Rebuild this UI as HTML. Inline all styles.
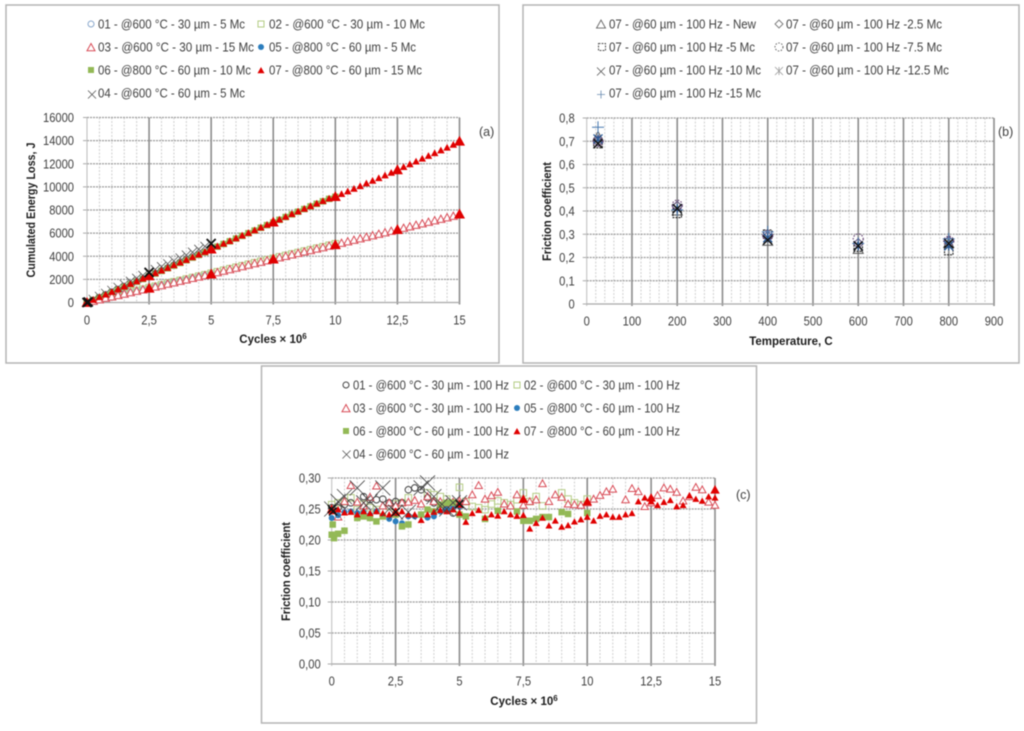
<!DOCTYPE html>
<html lang="en">
<head>
<meta charset="utf-8">
<title>Friction and energy loss charts</title>
<style>
html,body{margin:0;padding:0;background:#fff;width:1024px;height:731px;overflow:hidden}
svg{display:block;filter:blur(0.5px)}
text{font-family:"Liberation Sans",sans-serif;fill:#404040}
.leg{font-size:12.5px}
.tick{font-size:12.5px}
.ttl{font-size:11.5px;font-weight:bold;fill:#1c1c1c}
</style>
</head>
<body>
<svg id="root" xmlns="http://www.w3.org/2000/svg" width="1024" height="731" viewBox="0 0 1024 731">
<rect x="0" y="0" width="1024" height="731" fill="#fff"/>
<rect x="6" y="5" width="493" height="358" fill="#fff" stroke="#b4b4b4" stroke-width="1.5"/>
<rect x="523" y="5" width="496" height="358" fill="#fff" stroke="#b4b4b4" stroke-width="1.5"/>
<rect x="261.5" y="366" width="495" height="357" fill="#fff" stroke="#b4b4b4" stroke-width="1.5"/>

<g>
<text class="leg" x="98" y="28.5" textLength="147" lengthAdjust="spacingAndGlyphs">01 - @600 °C - 30 µm - 5 Mc</text>
<text class="leg" x="269" y="28.5" textLength="156" lengthAdjust="spacingAndGlyphs">02 - @600 °C - 30 µm  - 10 Mc</text>
<text class="leg" x="98" y="51.5" textLength="156" lengthAdjust="spacingAndGlyphs">03 - @600 °C - 30 µm  - 15 Mc</text>
<text class="leg" x="269" y="51.5" textLength="147" lengthAdjust="spacingAndGlyphs">05 - @800 °C - 60 µm - 5 Mc</text>
<text class="leg" x="98" y="74.5" textLength="153" lengthAdjust="spacingAndGlyphs">06 - @800 °C - 60 µm - 10 Mc</text>
<text class="leg" x="269" y="74.5" textLength="153" lengthAdjust="spacingAndGlyphs">07 - @800 °C - 60 µm - 15 Mc</text>
<text class="leg" x="98" y="97.5" textLength="147" lengthAdjust="spacingAndGlyphs">04 - @600 °C - 60 µm - 5 Mc</text>
</g>
<g>
<text class="leg" x="609" y="28.5" textLength="147" lengthAdjust="spacingAndGlyphs">07 - @60 µm - 100 Hz - New</text>
<text class="leg" x="786" y="28.5" textLength="156" lengthAdjust="spacingAndGlyphs">07 - @60 µm - 100 Hz -2.5 Mc</text>
<text class="leg" x="609" y="51.5" textLength="146" lengthAdjust="spacingAndGlyphs">07 - @60 µm - 100 Hz -5 Mc</text>
<text class="leg" x="786" y="51.5" textLength="156" lengthAdjust="spacingAndGlyphs">07 - @60 µm - 100 Hz -7.5 Mc</text>
<text class="leg" x="609" y="74.5" textLength="152" lengthAdjust="spacingAndGlyphs">07 - @60 µm - 100 Hz -10 Mc</text>
<text class="leg" x="786" y="74.5" textLength="163" lengthAdjust="spacingAndGlyphs">07 - @60 µm - 100 Hz -12.5 Mc</text>
<text class="leg" x="609" y="97.5" textLength="152" lengthAdjust="spacingAndGlyphs">07 - @60 µm - 100 Hz -15 Mc</text>
</g>
<g>
<text class="leg" x="353" y="389.5" textLength="156" lengthAdjust="spacingAndGlyphs">01 - @600 °C - 30 µm - 100 Hz</text>
<text class="leg" x="524" y="389.5" textLength="156" lengthAdjust="spacingAndGlyphs">02 - @600 °C - 30 µm - 100 Hz</text>
<text class="leg" x="353" y="412.5" textLength="156" lengthAdjust="spacingAndGlyphs">03 - @600 °C - 30 µm - 100 Hz</text>
<text class="leg" x="524" y="412.5" textLength="156" lengthAdjust="spacingAndGlyphs">05 - @800 °C - 60 µm - 100 Hz</text>
<text class="leg" x="353" y="435.5" textLength="156" lengthAdjust="spacingAndGlyphs">06 - @800 °C - 60 µm - 100 Hz</text>
<text class="leg" x="524" y="435.5" textLength="156" lengthAdjust="spacingAndGlyphs">07 - @800 °C - 60 µm - 100 Hz</text>
<text class="leg" x="353" y="458.5" textLength="156" lengthAdjust="spacingAndGlyphs">04 - @600 °C - 60 µm - 100 Hz</text>
</g>

<text class="tick" x="479" y="136" font-size="13">(a)</text>
<text class="tick" x="998" y="136" font-size="13">(b)</text>
<text class="tick" x="736" y="499" font-size="13">(c)</text>

<text class="ttl" x="273" y="343" text-anchor="middle">Cycles × 10<tspan dy="-4" font-size="8">6</tspan></text>
<text class="ttl" x="791" y="345" text-anchor="middle">Temperature, C</text>
<text class="ttl" x="524" y="705" text-anchor="middle">Cycles × 10<tspan dy="-4" font-size="8">6</tspan></text>
<text class="ttl" transform="translate(35,210) rotate(-90)" text-anchor="middle" textLength="135" lengthAdjust="spacingAndGlyphs">Cumulated Energy Loss, J</text>
<text class="ttl" transform="translate(551,211.5) rotate(-90)" text-anchor="middle" textLength="99" lengthAdjust="spacingAndGlyphs">Friction coefficient</text>
<text class="ttl" transform="translate(290,571.5) rotate(-90)" text-anchor="middle" textLength="99" lengthAdjust="spacingAndGlyphs">Friction coefficient</text>
<g id="layer"></g>
</svg>
<script>
/* ---------- Chart (a) data ---------- */
var aCycles = [0,0.25,0.5,0.75,1,1.25,1.5,1.75,2,2.25,2.5,2.75,3,3.25,3.5,3.75,4,4.25,4.5,4.75,5,5.25,5.5,5.75,6,6.25,6.5,6.75,7,7.25,7.5,7.75,8,8.25,8.5,8.75,9,9.25,9.5,9.75,10,10.25,10.5,10.75,11,11.25,11.5,11.75,12,12.25,12.5,12.75,13,13.25,13.5,13.75,14,14.25,14.5,14.75,15];
var a07 = [0,230,460,690,920,1150,1380,1610,1840,2070,2310,2540,2770,3000,3230,3460,3690,3920,4150,4380,4620,4860,5090,5320,5560,5790,6020,6250,6490,6720,6950,7180,7420,7650,7880,8110,8330,8560,8780,8990,9160,9380,9610,9840,10070,10300,10530,10760,10990,11220,11470,11720,11960,12200,12440,12680,12920,13160,13400,13640,13950];
var a03 = [0,120,240,370,490,610,730,860,980,1100,1230,1350,1470,1600,1720,1840,1960,2090,2210,2330,2460,2590,2720,2850,2980,3110,3240,3370,3490,3620,3750,3880,4000,4130,4250,4380,4500,4630,4750,4880,5000,5130,5260,5390,5520,5650,5780,5910,6040,6170,6300,6430,6560,6690,6820,6950,7080,7210,7340,7470,7650];
var a02 = [0,170,300,430,550,670,790,920,1040,1160,1290,1410,1540,1670,1790,1910,2030,2160,2280,2400,2530,2660,2790,2920,3050,3180,3310,3440,3560,3690,3820,3950,4070,4200,4320,4450,4570,4700,4820,4950,5080];
var a01 = [0,130,250,380,500,620,750,870,990,1110,1240,1360,1480,1610,1730,1850,1970,2100,2220,2340,2470];
var a06 = [0,210,430,650,880,1110,1340,1570,1800,2030,2270,2500,2730,2960,3190,3420,3650,3880,4110,4340,4580,4830,5060,5290,5530,5760,5990,6220,6460,6690,6920,7150,7390,7620,7850,8080,8310,8530,8750,8960,9140];
var a05 = [0,250,490,730,960,1190,1420,1650,1880,2110,2340,2570,2800,3030,3260,3490,3720,3950,4180,4410,4650];
var a04 = [0,270,530,790,1050,1310,1570,1830,2090,2340,2600,2850,3100,3350,3600,3850,4100,4350,4600,4850,5100];
var a07LowerCycles = [2.5,5,7.5,10,12.5,15];
var a07LowerValues = [1230,2460,3750,5000,6300,7650];
var a07BigCycles = [0,2.5,5,7.5,10,12.5,15];
var a07BigValues = [0,2310,4620,6950,9160,11470,13950];
var a04BigCycles = [0,0.05,2.5,5];
var a04BigValues = [0,40,2600,5100];
var aXTicks = [0,2.5,5,7.5,10,12.5,15];
var aXLabels = ["0","2,5","5","7,5","10","12,5","15"];
var aYTicks = [0,2000,4000,6000,8000,10000,12000,14000,16000];
var aYLabels = ["0","2000","4000","6000","8000","10000","12000","14000","16000"];

/* ---------- Chart (b) data ---------- */
var bTemps = [25,200,400,600,800];
var bNew = [0.72,0.40,0.27,0.235,0.26];
var b2p5 = [0.70,0.42,0.29,0.26,0.27];
var b5 = [0.69,0.39,0.30,0.245,0.23];
var b7p5 = [0.70,0.425,0.295,0.28,0.27];
var b10 = [0.69,0.41,0.275,0.25,0.26];
var b12p5 = [0.71,0.41,0.285,0.25,0.25];
var b15 = [0.76,0.405,0.31,0.26,0.28];
var bXTicks = [0,100,200,300,400,500,600,700,800,900];
var bXLabels = ["0","100","200","300","400","500","600","700","800","900"];
var bYTicks = [0,0.1,0.2,0.3,0.4,0.5,0.6,0.7,0.8];
var bYLabels = ["0","0,1","0,2","0,3","0,4","0,5","0,6","0,7","0,8"];

/* ---------- Chart (c) data ---------- */
var cCycles = aCycles;
var c01 = [0.252,0.252,0.257,0.26,null,0.27,0.265,0.265,0.266,0.26,0.262,0.26,0.281,0.284,0.281,0.268,0.26,0.252,0.249,0.2435,0.26];
var c02 = [0.257,0.26,0.262,0.268,0.249,0.258,0.252,0.249,null,0.254,0.258,0.26,0.268,null,null,0.276,0.273,0.27,0.266,0.26,0.285,0.262,0.254,0.252,0.249,0.258,0.263,0.26,0.257,0.265,0.276,0.262,0.27,0.255,null,null,0.276,0.266,0.26,0.257,0.266];
var c03 = [null,0.237,0.262,0.288,0.261,0.255,0.269,0.287,0.255,0.26,0.255,0.26,0.261,0.264,0.258,0.27,0.262,0.262,0.26,0.261,0.263,0.262,0.273,0.288,0.266,0.2715,0.277,0.258,0.255,0.273,0.256,0.262,0.265,0.291,0.262,0.273,0.269,0.258,0.257,0.256,0.26,0.266,0.272,0.278,0.282,null,0.265,0.283,0.278,0.254,0.26,0.272,0.284,0.282,0.277,0.263,0.27,0.285,0.281,0.261,0.256];
var c05 = [0.2355,0.24,0.245,0.246,0.2435,0.245,0.241,0.246,0.24,0.234,0.23,0.227,0.238,0.238,0.241,0.236,0.238,0.246,0.249,0.252,0.254];
var c06 = [0.2085,0.21,0.215,null,0.2355,0.238,0.2355,0.23,0.238,null,0.241,0.222,0.225,null,0.241,0.249,0.246,0.257,0.26,0.26,0.241,0.238,null,null,0.234,null,0.247,null,null,0.246,0.231,0.231,0.234,0.237,0.237,null,0.245,0.242,null,null,0.2435];
var c06EarlyCycles = [0.04,0.09];
var c06EarlyValues = [0.225,0.203];
var c07 = [0.246,0.249,0.244,0.245,0.241,0.246,0.243,0.246,0.243,0.241,0.246,0.246,0.241,0.241,0.232,0.241,0.245,0.248,0.246,0.249,0.2435,0.229,0.243,0.248,0.236,0.241,0.239,0.246,0.241,0.2385,0.24,0.218,0.227,0.2355,0.223,0.231,0.221,0.2235,0.2295,0.233,0.237,0.231,0.2385,0.241,0.237,0.237,0.241,0.243,0.262,0.268,0.262,0.256,0.261,0.264,0.254,0.256,0.2715,0.266,0.263,0.27,0.268];
var c07BigCycles = [0,2.5,5,7.5,10,12.5,15];
var c07BigValues = [0.25,0.245,0.258,0.266,0.262,0.268,0.281];
var c04 = [0.25,0.262,0.27,null,0.284,0.26,0.262,null,0.284,0.25,0.245,null,0.245,null,0.284,0.292,0.27,0.255,0.25,0.26,0.26];
var c04EarlyCycles = [0,0.05,2.5,5];
var c04EarlyValues = [0.25,0.246,0.245,0.258];
var cXTicks = [0,2.5,5,7.5,10,12.5,15];
var cXLabels = ["0","2,5","5","7,5","10","12,5","15"];
var cYTicks = [0,0.05,0.1,0.15,0.2,0.25,0.3];
var cYLabels = ["0,00","0,05","0,10","0,15","0,20","0,25","0,30"];

var NS = "http://www.w3.org/2000/svg";
var layer = document.getElementById("layer");

function mk(tag, attrs, name, parent) {
  var el = document.createElementNS(NS, tag);
  for (var k in attrs) el.setAttribute(k, attrs[k]);
  
  
  (parent || layer).appendChild(el);
  return el;
}
function scale(d0, d1, p0, p1) {
  return function (v) { return p0 + (v - d0) * (p1 - p0) / (d1 - d0); };
}
function pathLine(x1, y1, x2, y2) {
  return "M" + x1 + " " + y1 + "L" + x2 + " " + y2;
}
function marker(type, cx, cy, s, st, name, parent) {
  var r = s / 2, stroke = st.stroke || "none", fill = st.fill || "none", w = st.w || 1;
  var base = { stroke: stroke, fill: fill, "stroke-width": w };
  if (st.dash) base["stroke-dasharray"] = st.dash;
  var a = Object.assign({}, base);
  if (type === "circle") {
    a.cx = cx; a.cy = cy; a.r = r;
    return mk("circle", a, name, parent);
  }
  if (type === "square") {
    a.x = cx - r; a.y = cy - r; a.width = s; a.height = s;
    return mk("rect", a, name, parent);
  }
  var d = "";
  if (type === "tri") d = "M" + cx + " " + (cy - r) + "L" + (cx + r) + " " + (cy + r * 0.8) + "L" + (cx - r) + " " + (cy + r * 0.8) + "Z";
  if (type === "diamond") d = "M" + cx + " " + (cy - r) + "L" + (cx + r) + " " + cy + "L" + cx + " " + (cy + r) + "L" + (cx - r) + " " + cy + "Z";
  if (type === "x") d = pathLine(cx - r, cy - r, cx + r, cy + r) + pathLine(cx - r, cy + r, cx + r, cy - r);
  if (type === "plus") d = pathLine(cx - r, cy, cx + r, cy) + pathLine(cx, cy - r, cx, cy + r);
  if (type === "star") d = pathLine(cx - r, cy - r, cx + r, cy + r) + pathLine(cx - r, cy + r, cx + r, cy - r) + pathLine(cx, cy - r, cx, cy + r);
  a.d = d;
  return mk("path", a, name, parent);
}
function labelWidth(s) {
  var w = 0;
  for (var i = 0; i < s.length; i++) w += (s[i] === "," ? 3.2 : 6.2);
  return w;
}
function frame(o) {
  var g = mk("g", {}, o.id + "-axes");
  var sx = o.sx, sy = o.sy, xMin = sx(o.xTicks[0]), xMax = sx(o.xTicks[o.xTicks.length - 1]);
  var yBot = sy(o.yTicks[0]), yTop = sy(o.yTicks[o.yTicks.length - 1]);
  for (var i = 0; i < o.xTicks.length - 1; i++) {
    var step = (o.xTicks[i + 1] - o.xTicks[i]) / 5;
    for (var j = 1; j < 5; j++) {
      var mx = sx(o.xTicks[i] + step * j);
      mk("line", { x1: mx, x2: mx, y1: yTop, y2: yBot, stroke: "#d0d0d0", "stroke-width": 1, "stroke-dasharray": "2 1.5" }, o.id + "-minor-gridline", g);
    }
  }
  o.yTicks.forEach(function (t, i) {
    var y = sy(t);
    if (i > 0) mk("line", { x1: xMin, x2: xMax, y1: y, y2: y, stroke: "#9a9a9a", "stroke-width": 1.2, "stroke-dasharray": "2 1" }, o.id + "-y-gridline", g);
    mk("line", { x1: xMin - 4, x2: xMin, y1: y, y2: y, stroke: "#aaa", "stroke-width": 1 }, o.id + "-y-tick", g);
    var tx = mk("text", { x: xMin - o.labelGap, y: y + 4.5, "text-anchor": "end", "class": "tick", textLength: labelWidth(o.yLabels[i]), lengthAdjust: "spacingAndGlyphs" }, o.id + "-y-tick-label", g);
    tx.textContent = o.yLabels[i];
  });
  o.xTicks.forEach(function (t, i) {
    var x = sx(t);
    mk("line", { x1: x, x2: x, y1: yTop, y2: yBot + 2, stroke: i === 0 ? "#bdbdbd" : "#8c8c8c", "stroke-width": i === 0 ? 1 : 1.6 }, o.id + "-x-gridline", g);
    var tx = mk("text", { x: x, y: o.xLabelY, "text-anchor": "middle", "class": "tick", textLength: labelWidth(o.xLabels[i]), lengthAdjust: "spacingAndGlyphs" }, o.id + "-x-tick-label", g);
    tx.textContent = o.xLabels[i];
  });
  mk("line", { x1: xMin, x2: xMax, y1: yBot, y2: yBot, stroke: "#a8a8a8", "stroke-width": 1.3 }, o.id + "-x-axis", g);
}
function series(name, type, size, st, xs, ys, sx, sy) {
  var g = mk("g", {}, name);
  for (var i = 0; i < ys.length; i++) {
    if (ys[i] === null) continue;
    marker(type, sx(xs[i]), sy(ys[i]), size, st, name + "-point", g);
  }
}

var RED = { fill: "#e00000" };
var REDH = { stroke: "#d84a55", fill: "#fff", w: 1 };
var GRN = { fill: "#93b956" };
var GRNH = { stroke: "#b4cc84", fill: "none", w: 1 };
var BLU = { fill: "#2b7dbd" };
var BLUH = { stroke: "#8aa8cc", fill: "none", w: 1 };
var GREY = { stroke: "#555", fill: "none", w: 0.8 };
var BLK = { stroke: "#111", fill: "none", w: 1.8 };
var CIRK = { stroke: "#444", fill: "none", w: 1 };

/* Chart (a) */
var ax = scale(0, 15, 87, 459.5), ay = scale(0, 16000, 302.5, 117.5);
frame({ id: "chart-a", sx: ax, sy: ay, xTicks: aXTicks, xLabels: aXLabels, yTicks: aYTicks, yLabels: aYLabels, xLabelY: 324.5, labelGap: 13 });
series("a-series-01", "circle", 6, BLUH, aCycles, a01, ax, ay);
series("a-series-02", "square", 6.5, GRNH, aCycles, a02, ax, ay);
series("a-series-05", "circle", 6, BLU, aCycles, a05, ax, ay);
series("a-series-06", "square", 6.5, GRN, aCycles, a06, ax, ay);
series("a-series-04", "x", 9, GREY, aCycles, a04, ax, ay);
series("a-series-03", "tri", 8, REDH, aCycles, a03, ax, ay);
series("a-series-07", "tri", 7.5, RED, aCycles, a07, ax, ay);
series("a-series-07-milestones", "tri", 11, RED, a07BigCycles, a07BigValues, ax, ay);
series("a-series-07-lower-milestones", "tri", 11, RED, a07LowerCycles, a07LowerValues, ax, ay);
series("a-series-04-milestones", "x", 9, BLK, a04BigCycles, a04BigValues, ax, ay);

/* Chart (b) */
var bx = scale(0, 900, 586.7, 994), by = scale(0, 0.8, 304, 118);
frame({ id: "chart-b", sx: bx, sy: by, xTicks: bXTicks, xLabels: bXLabels, yTicks: bYTicks, yLabels: bYLabels, xLabelY: 325.5, labelGap: 12 });
series("b-series-new", "tri", 10, { stroke: "#555", fill: "none", w: 1 }, bTemps, bNew, bx, by);
series("b-series-5", "square", 8.5, { stroke: "#222", fill: "none", w: 1.1, dash: "2 1" }, bTemps, b5, bx, by);
series("b-series-2-5", "diamond", 10, { stroke: "#5a4a7a", fill: "none", w: 1 }, bTemps, b2p5, bx, by);
series("b-series-7-5", "circle", 10, { stroke: "#6a4a78", fill: "none", w: 1.2, dash: "1.5 1.5" }, bTemps, b7p5, bx, by);
series("b-series-15", "plus", 12, { stroke: "#4a7ab0", fill: "none", w: 1 }, bTemps, b15, bx, by);
series("b-series-12-5", "star", 9, { stroke: "#2a5a96", fill: "none", w: 1.3 }, bTemps, b12p5, bx, by);
series("b-series-10", "x", 9, { stroke: "#111", fill: "none", w: 1.4 }, bTemps, b10, bx, by);

/* Chart (c) */
var cx = scale(0, 15, 331.7, 715), cy = scale(0, 0.3, 664, 478);
frame({ id: "chart-c", sx: cx, sy: cy, xTicks: cXTicks, xLabels: cXLabels, yTicks: cYTicks, yLabels: cYLabels, xLabelY: 685.5, labelGap: 11 });
series("c-series-02", "square", 6.5, GRNH, cCycles, c02, cx, cy);
series("c-series-01", "circle", 6.5, CIRK, cCycles, c01, cx, cy);
series("c-series-03", "tri", 7.5, REDH, cCycles, c03, cx, cy);
series("c-series-05", "circle", 6, BLU, cCycles, c05, cx, cy);
series("c-series-06", "square", 6.5, GRN, cCycles, c06, cx, cy);
series("c-series-06-early", "square", 6.5, GRN, c06EarlyCycles, c06EarlyValues, cx, cy);
series("c-series-07", "tri", 7, RED, cCycles, c07, cx, cy);
series("c-series-07-milestones", "tri", 9.5, RED, c07BigCycles, c07BigValues, cx, cy);
series("c-series-04", "x", 15, { stroke: "#444", fill: "none", w: 0.8 }, cCycles, c04, cx, cy);
series("c-series-04-early", "x", 8, { stroke: "#111", fill: "none", w: 1.3 }, c04EarlyCycles, c04EarlyValues, cx, cy);

/* Legend markers */
marker("circle", 91, 24, 6, BLUH, "legend-a-01-marker");
marker("square", 261, 24, 6, GRNH, "legend-a-02-marker");
marker("tri", 91, 47.5, 8, REDH, "legend-a-03-marker");
marker("circle", 261, 47, 6, BLU, "legend-a-05-marker");
marker("square", 91, 70, 6, GRN, "legend-a-06-marker");
marker("tri", 261, 70.5, 7, RED, "legend-a-07-marker");
marker("x", 92, 94.5, 8, GREY, "legend-a-04-marker");
marker("tri", 601, 24.5, 9, { stroke: "#666", fill: "none", w: 0.9 }, "legend-b-new-marker");
marker("diamond", 779, 24, 8, { stroke: "#777", fill: "none", w: 0.9 }, "legend-b-2-5-marker");
marker("square", 602, 47, 7, { stroke: "#555", fill: "none", w: 1, dash: "2 1" }, "legend-b-5-marker");
marker("circle", 779, 47, 8, { stroke: "#666", fill: "none", w: 1, dash: "1.5 1.5" }, "legend-b-7-5-marker");
marker("x", 601, 71.5, 8, GREY, "legend-b-10-marker");
marker("star", 779, 71, 8, { stroke: "#999", fill: "none", w: 0.8 }, "legend-b-12-5-marker");
marker("plus", 601, 94.5, 8, { stroke: "#6a8ab0", fill: "none", w: 0.8 }, "legend-b-15-marker");
marker("circle", 346, 385, 6, CIRK, "legend-c-01-marker");
marker("square", 517, 385, 6, GRNH, "legend-c-02-marker");
marker("tri", 346, 408.5, 8, REDH, "legend-c-03-marker");
marker("circle", 517, 408, 6, BLU, "legend-c-05-marker");
marker("square", 346, 431, 6, GRN, "legend-c-06-marker");
marker("tri", 517, 431.5, 7, RED, "legend-c-07-marker");
marker("x", 346.5, 454.5, 8, GREY, "legend-c-04-marker");
</script>
</body>
</html>
